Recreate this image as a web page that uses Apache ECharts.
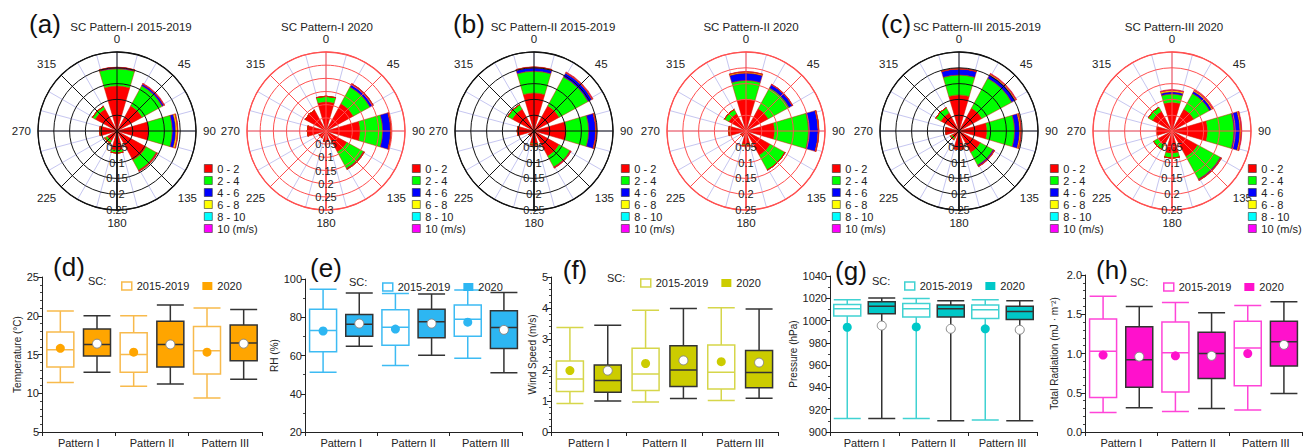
<!DOCTYPE html>
<html><head><meta charset="utf-8">
<script src="https://cdn.jsdelivr.net/npm/echarts@6/dist/echarts.min.js"></script>
<style>html,body{margin:0;padding:0;background:#fff}#c{width:1308px;height:448px}</style>
</head><body><div id="c"></div>
<script>
// ---------------- DATA ----------------
const DIRS = ['N','NE','E','SE','S','SW','W','NW'];
const SPEED_BINS = ['0 - 2','2 - 4','4 - 6','6 - 8','8 - 10','10 (m/s)'];
const ROSE_TITLES = ['SC Pattern-I 2015-2019','SC Pattern-I 2020','SC Pattern-II 2015-2019','SC Pattern-II 2020','SC Pattern-III 2015-2019','SC Pattern-III 2020'];
const ROSE_MAX = [0.25, 0.3, 0.25, 0.25, 0.25, 0.25];
// frequency per speed bin (rows) per direction N..NW (cols)
const roseI_1519 = [
  [0.142,0.090,0.100,0.105,0.060,0.035,0.050,0.078],
  [0.055,0.073,0.075,0.037,0.010,0.008,0.005,0.010],
  [0.003,0.006,0.011,0.002,0,0,0,0.001],
  [0.001,0.001,0.005,0.001,0,0.002,0,0],
  [0,0,0.001,0,0,0,0,0],
  [0.001,0.002,0.001,0.001,0,0,0,0]];
const roseI_2020 = [
  [0.110,0.118,0.129,0.090,0.040,0.030,0.071,0.090],
  [0.022,0.072,0.086,0.072,0,0,0,0],
  [0,0.013,0.030,0.003,0,0,0,0],
  [0,0.001,0.002,0.001,0,0,0,0],
  [0,0,0,0,0,0,0,0],
  [0,0.001,0.001,0,0,0,0,0]];
const roseII_1519 = [
  [0.120,0.090,0.102,0.090,0.040,0.020,0.050,0.078],
  [0.069,0.105,0.071,0.040,0.005,0,0.003,0.017],
  [0.011,0.014,0.022,0.002,0,0,0,0],
  [0.002,0.002,0.002,0.001,0,0,0,0],
  [0,0,0,0,0,0,0,0],
  [0.001,0.002,0.001,0.001,0,0,0,0]];
const roseII_2020 = [
  [0.100,0.080,0.090,0.087,0.043,0.020,0.050,0.062],
  [0.060,0.075,0.108,0.053,0.005,0,0.005,0.016],
  [0.023,0.012,0.030,0.001,0,0,0,0],
  [0.004,0.001,0.002,0,0,0,0,0],
  [0,0,0,0,0,0,0,0],
  [0.001,0.001,0.001,0,0,0,0,0]];
const roseIII_1519 = [
  [0.114,0.082,0.088,0.077,0.058,0.025,0.042,0.065],
  [0.063,0.108,0.088,0.046,0,0.005,0,0.019],
  [0.019,0.013,0.016,0.004,0,0,0,0],
  [0.001,0.003,0.004,0.001,0,0.002,0,0],
  [0,0,0,0,0,0,0,0],
  [0.001,0.002,0.001,0.001,0,0,0,0]];
const roseIII_2020 = [
  [0.090,0.078,0.112,0.092,0.070,0.050,0.047,0.070],
  [0.027,0.057,0.084,0.082,0.016,0.017,0,0.016],
  [0.007,0.008,0.019,0.003,0,0,0,0],
  [0.005,0.004,0.004,0.001,0,0,0,0],
  [0,0,0,0,0,0,0,0],
  [0.002,0.002,0.002,0.001,0,0,0,0]];
const ROSES = [roseI_1519, roseI_2020, roseII_1519, roseII_2020, roseIII_1519, roseIII_2020];

const PATTERNS = ['Pattern I','Pattern II','Pattern III'];
// [min, Q1, median, Q3, max]
const temp2015 = [[11.4,13.4,15.6,17.9,20.6],[10.9,12.7,15.0,17.8,20.0],[9.4,12.5,15.5,18.6,21.0]];
const temp2020 = [[12.7,14.8,16.3,18.3,20.0],[11.2,13.4,16.3,19.3,21.4],[11.8,14.2,16.5,18.8,20.8]];
const tempMean2015 = [15.8,15.3,15.3];
const tempMean2020 = [16.4,16.3,16.4];
const rh2015 = [[51.2,62.0,73.1,84.2,94.7],[54.8,65.3,74.8,83.9,92.4],[58.5,70.1,78.9,86.4,94.2]];
const rh2020 = [[64.8,70.1,76.4,81.4,92.7],[60.1,69.3,77.7,84.2,92.2],[51.0,63.6,74.6,83.4,93.0]];
const rhMean2015 = [72.8,73.8,77.4];
const rhMean2020 = [76.7,76.7,73.4];
const ws2015 = [[0.92,1.31,1.71,2.29,3.37],[0.97,1.34,1.87,2.70,3.93],[1.02,1.39,1.93,2.81,4.01]];
const ws2020 = [[1.00,1.28,1.66,2.16,3.44],[1.08,1.47,2.00,2.78,3.98],[1.09,1.43,1.92,2.63,3.97]];
const wsMean2015 = [1.98,2.21,2.27];
const wsMean2020 = [1.98,2.31,2.24];
const p2015 = [[912.1,1004.1,1010.5,1014.5,1018.6],[912.1,1003.3,1010.5,1015.4,1019.7],[910.7,1001.8,1009.6,1014.0,1018.6]];
const p2020 = [[912.1,1006.2,1012.8,1016.9,1020.3],[910.1,1003.3,1010.5,1014.0,1017.7],[910.1,1001.0,1008.2,1012.8,1017.7]];
const pMean2015 = [994.0,994.3,992.6];
const pMean2020 = [995.5,992.6,991.7];
const rad2015 = [[0.25,0.44,1.03,1.44,1.73],[0.26,0.51,1.01,1.40,1.65],[0.28,0.59,1.07,1.41,1.61]];
const rad2020 = [[0.31,0.57,0.92,1.34,1.60],[0.30,0.68,1.00,1.27,1.52],[0.49,0.84,1.15,1.41,1.66]];
const radMean2015 = [0.98,0.97,1.00];
const radMean2020 = [0.96,0.97,1.11];

// ---------------- STYLE / LAYOUT ----------------
const FONT = "'Liberation Sans', Arial, sans-serif";
const SPEED_COLORS = ['#ff0000','#00ff00','#0000ff','#ffff00','#00ffff','#ff00ff'];
const ROSE_CENTERS = [[117,131],[326,131],[534,131],[746,131],[959,131],[1172,131]];
const ROSE_R = 79;
const ROSE_GRID = ['#111','#ff5050','#111','#ff5050','#111','#ff5050'];
const ROSE_TITLE_X = [131,327,553,751,977,1174];
const ROSE_LEGEND_X = [199,407,616,827,1045,1243];

const BOX_PANELS = [
  {label:'(d)', s15:temp2015, s20:temp2020, m15:tempMean2015, m20:tempMean2020, yName:'Temperature (\u00B0C)', min:5, max:25, interval:5, minor:5, dec:0,
   fill:'#FFA500', edge:'#F8BA4C', grid:{left:42,top:277,width:220,height:161}, nameGap:20, lab:[69,267], scX:88, legX:116, legY:281},
  {label:'(e)', s15:rh2015, s20:rh2020, m15:rhMean2015, m20:rhMean2020, yName:'RH (%)', min:20, max:100, interval:20, minor:2, dec:0,
   fill:'#2DB6F2', edge:'#3DBBF3', grid:{left:305,top:279,width:217,height:161}, nameGap:22, lab:[326,268], scX:349, legX:377, legY:282},
  {label:'(f)', s15:ws2015, s20:ws2020, m15:wsMean2015, m20:wsMean2020, yName:'Wind Speed (m/s)', min:0, max:5, interval:1, minor:5, dec:0,
   fill:'#CCCC00', edge:'#D6D64A', grid:{left:551,top:277,width:227,height:162}, nameGap:12, lab:[575,270], scX:607, legX:635, legY:278},
  {label:'(g)', s15:p2015, s20:p2020, m15:pMean2015, m20:pMean2020, yName:'Pressure (hPa)', min:900, max:1040, interval:20, minor:2, dec:0,
   fill:'#00C8C8', edge:'#40D2D2', grid:{left:830,top:276,width:207,height:161}, nameGap:30, lab:[851,271], scX:872, legX:899, legY:281},
  {label:'(h)', s15:rad2015, s20:rad2020, m15:radMean2015, m20:radMean2020, yName:'Total Radiation (mJ \u00B7 m\u207B\u00B2)', min:0, max:2, interval:0.5, minor:5, dec:1,
   fill:'#FF11CC', edge:'#FF44D8', grid:{left:1085,top:275,width:217,height:162}, nameGap:26, lab:[1112,270], scX:1130, legX:1158, legY:282}
];

// ---------------- BUILD OPTION ----------------
const polar = [], angleAxis = [], radiusAxis = [], series = [], legend = [], graphic = [];
ROSES.forEach((rose, i) => {
  const c = ROSE_CENTERS[i], M = ROSE_MAX[i], gc = ROSE_GRID[i];
  const pb = 3*i, pm = 3*i+1, pf = 3*i+2;
  polar.push({center:c, radius:ROSE_R}, {center:c, radius:ROSE_R}, {center:c, radius:ROSE_R});
  // back grid: minor spokes
  angleAxis.push({polarIndex:pb, type:'value', min:0, max:360, interval:15, startAngle:90, clockwise:true, z:0,
    axisLine:{show:false}, axisTick:{show:false}, axisLabel:{show:false},
    splitLine:{show:true, lineStyle:{color:'#c6c6f0', width:1}}});
  radiusAxis.push({polarIndex:pb, type:'value', min:0, max:M, z:0,
    axisLine:{show:false}, axisTick:{show:false}, axisLabel:{show:false}, splitLine:{show:false}});
  // bars
  angleAxis.push({polarIndex:pm, type:'category', data:DIRS, startAngle:112.5, clockwise:true, show:false});
  radiusAxis.push({polarIndex:pm, type:'value', min:0, max:M, show:false});
  // front grid
  angleAxis.push({polarIndex:pf, type:'value', min:0, max:360, interval:45, startAngle:-90, clockwise:true, z:3,
    axisLine:{show:true, lineStyle:{color:gc, width:1.3}}, axisTick:{show:false},
    axisLabel:{show:true, margin:7, fontSize:11.5, color:'#222', fontFamily:FONT,
      formatter: v => (v >= 360 ? '' : String((v + 180) % 360))},
    splitLine:{show:true, lineStyle:{color:gc, width:1}}});
  radiusAxis.push({polarIndex:pf, type:'value', min:0, max:M, interval:0.05, z:3,
    axisLine:{show:true, lineStyle:{color:gc, width:1.6}}, axisTick:{show:false},
    axisLabel:{show:true, showMinLabel:false, margin:0, align:'center', verticalAlign:'middle',
      fontSize:11, color:'#222', fontFamily:FONT, formatter: v => String(parseFloat(v.toFixed(2)))},
    splitLine:{show:true, lineStyle:{color:gc, width:1}}});
  rose.forEach((vals, j) => {
    series.push({type:'bar', coordinateSystem:'polar', polarIndex:pm, name:SPEED_BINS[j], stack:'rose'+i,
      data:vals, barCategoryGap:'27%', z:2,
      itemStyle:{color:SPEED_COLORS[j], borderColor:'#d02000', borderWidth:0.5},
      emphasis:{disabled:true}});
  });
  legend.push({data:SPEED_BINS.map(n => ({name:n, icon:'rect'})), orient:'vertical', left:ROSE_LEGEND_X[i], top:157.5,
    itemWidth:8, itemHeight:8, itemGap:0, selectedMode:false,
    itemStyle:{borderColor:'#333', borderWidth:0.6},
    textStyle:{fontSize:11, lineHeight:12, color:'#222', fontFamily:FONT}});
  graphic.push({type:'text', x:ROSE_TITLE_X[i], y:27, style:{text:ROSE_TITLES[i], fontSize:11.5, fontFamily:FONT, fill:'#222',
    align:'center', verticalAlign:'middle', textAlign:'center', textVerticalAlign:'middle'}});
});
[['(a)',45],['(b)',469],['(c)',896]].forEach(([t,x]) => {
  graphic.push({type:'text', x:x, y:24, style:{text:t, fontSize:26, fontFamily:FONT, fill:'#111',
    align:'center', verticalAlign:'middle', textAlign:'center', textVerticalAlign:'middle'}});
});

const grid = [], xAxis = [], yAxis = [];
const HIDDEN_CATS = ['a','b','c','d','e','f'];
const EMPTY = () => ['-','-','-','-','-'];
BOX_PANELS.forEach((p, k) => {
  grid.push(Object.assign({containLabel:false}, p.grid));
  xAxis.push({gridIndex:k, type:'category', data:PATTERNS,
    axisLine:{show:true, lineStyle:{color:'#222', width:1}},
    axisTick:{show:true, length:4, lineStyle:{color:'#222'}},
    axisLabel:{fontSize:11, color:'#222', margin:5, fontFamily:FONT}});
  xAxis.push({gridIndex:k, type:'category', data:HIDDEN_CATS, show:false});
  xAxis.push({gridIndex:k, type:'category', data:HIDDEN_CATS, show:false});
  yAxis.push({gridIndex:k, type:'value', min:p.min, max:p.max, interval:p.interval,
    name:p.yName, nameLocation:'middle', nameGap:p.nameGap, nameRotate:90,
    nameTextStyle:{fontSize:10, color:'#222', fontFamily:FONT},
    axisLine:{show:true, lineStyle:{color:'#222', width:1}},
    axisTick:{show:true, length:4, lineStyle:{color:'#222'}},
    minorTick:{show:true, splitNumber:p.minor, length:2, lineStyle:{color:'#444'}},
    splitLine:{show:false},
    axisLabel:{fontSize:11, color:'#222', margin:3, fontFamily:FONT, formatter: v => v.toFixed(p.dec)}});
  const d15 = [], d20 = [];
  p.s15.forEach((s, i) => { d15.push(s.slice()); d15.push(EMPTY()); });
  p.s20.forEach((s, i) => { d20.push(EMPTY()); d20.push(s.slice()); });
  series.push({type:'boxplot', name:'2015-2019', xAxisIndex:3*k+1, yAxisIndex:k, data:d15, boxWidth:[27,27], z:3,
    itemStyle:{color:'#ffffff', borderColor:p.edge, borderWidth:1.5}, emphasis:{disabled:true}});
  series.push({type:'boxplot', name:'2020', xAxisIndex:3*k+2, yAxisIndex:k, data:d20, boxWidth:[27,27], z:3,
    itemStyle:{color:p.fill, borderColor:'#333', borderWidth:1.5}, emphasis:{disabled:true}});
  series.push({type:'scatter', name:'mean 2015-2019', xAxisIndex:3*k+1, yAxisIndex:k, z:5,
    data:p.m15.map((m, i) => [2*i, m]), symbol:'circle', symbolSize:9,
    itemStyle:{color:p.fill, opacity:1}, emphasis:{disabled:true}});
  series.push({type:'scatter', name:'mean 2020', xAxisIndex:3*k+2, yAxisIndex:k, z:5,
    data:p.m20.map((m, i) => [2*i+1, m]), symbol:'circle', symbolSize:9,
    itemStyle:{color:'#ffffff', borderColor:'#888', borderWidth:1, opacity:1}, emphasis:{disabled:true}});
  legend.push({data:[
      {name:'2015-2019', icon:'rect', itemStyle:{color:'#ffffff', borderColor:p.edge, borderWidth:1.5}},
      {name:'2020', icon:'rect', itemStyle:{color:p.fill, borderColor:p.fill, borderWidth:0}}],
    left:p.legX, top:p.legY - 6, itemWidth:10, itemHeight:8, itemGap:13, selectedMode:false,
    textStyle:{fontSize:11, lineHeight:12, color:'#222', fontFamily:FONT}});
  graphic.push({type:'text', x:p.scX, y:p.legY, style:{text:'SC:', fontSize:11, fontFamily:FONT, fill:'#222',
    align:'left', verticalAlign:'middle', textAlign:'left', textVerticalAlign:'middle'}});
  graphic.push({type:'text', x:p.lab[0], y:p.lab[1], z:10, style:{text:p.label, fontSize:26, fontFamily:FONT, fill:'#111',
    align:'center', verticalAlign:'middle', textAlign:'center', textVerticalAlign:'middle'}});
});

const option = {
  backgroundColor:'#ffffff', animation:false,
  textStyle:{fontFamily:FONT},
  polar, angleAxis, radiusAxis, grid, xAxis, yAxis, legend, series, graphic
};
const chart = echarts.init(document.getElementById('c'), null, {renderer:'svg', width:1308, height:448});
chart.setOption(option);
</script></body></html>
